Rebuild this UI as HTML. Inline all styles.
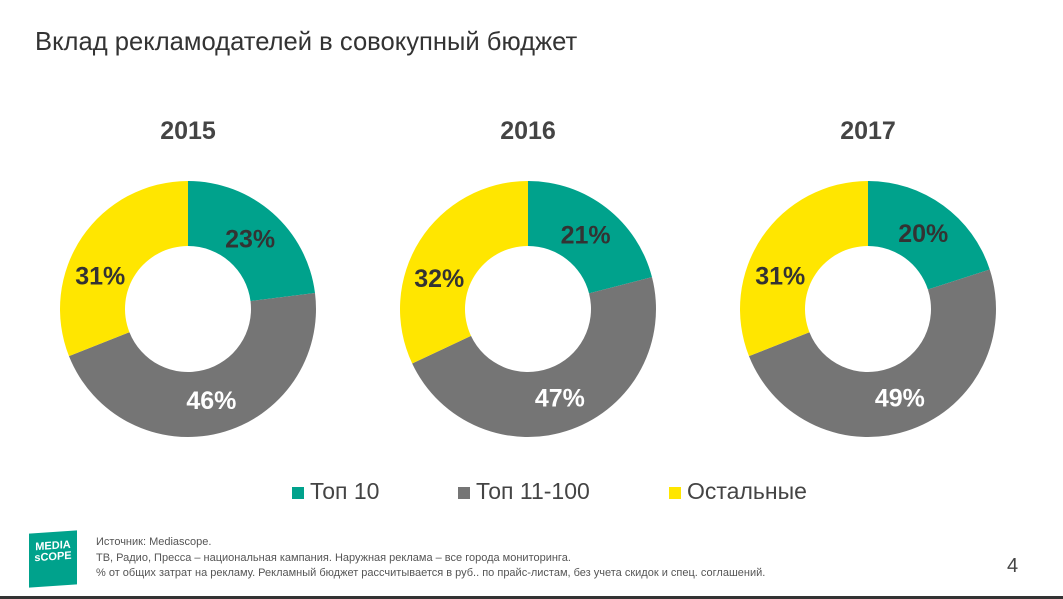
<!DOCTYPE html>
<html><head><meta charset="utf-8"><style>
body{margin:0;width:1063px;height:599px;background:#fff;font-family:"Liberation Sans",sans-serif;overflow:hidden;position:relative}
.t{position:absolute}
</style></head><body>
<div class="t" style="left:35px;top:28px;font-size:25.6px;color:#333">Вклад рекламодателей в совокупный бюджет</div>
<svg id="c" width="1063" height="599" style="position:absolute;left:0;top:0"></svg>
<div class="t" style="left:0;top:478px;width:1063px;font-size:23px;color:#444">
<div class="t" style="left:292px;top:0;white-space:nowrap"><span style="display:inline-block;width:12px;height:12px;background:#00A28C;margin-right:6px"></span>Топ 10</div>
<div class="t" style="left:458px;top:0;white-space:nowrap"><span style="display:inline-block;width:12px;height:12px;background:#757575;margin-right:6px"></span>Топ 11-100</div>
<div class="t" style="left:669px;top:0;white-space:nowrap"><span style="display:inline-block;width:12px;height:12px;background:#FFE600;margin-right:6px"></span>Остальные</div>
</div>
<div class="t" style="left:29px;top:532px;width:48px;height:54px;background:#00A28C;transform:skewY(-4deg);color:#fff;font-size:11px;line-height:11px;text-align:center;padding-top:9px;box-sizing:border-box;font-weight:bold">MEDIA<br>sCOPE</div>
<div class="t" style="left:96px;top:535px;font-size:11px;line-height:15.5px;color:#555">Источник: Mediascope.<br>ТВ, Радио, Пресса – национальная кампания. Наружная реклама – все города мониторинга.<br>% от общих затрат на рекламу. Рекламный бюджет рассчитывается в руб.. по прайс-листам, без учета скидок и спец. соглашений.</div>
<div class="t" style="left:1007px;top:555px;font-size:20px;color:#444">4</div>
<div class="t" style="left:0;top:596px;width:1063px;height:3px;background:#333"></div>
<script>
const years=["2015","2016","2017"];
const top10=[23,21,20];
const top11_100=[46,47,49];
const others=[31,32,31];
const colors=["#00A28C","#757575","#FFE600"];
const names=["top10","top11-100","others"];
const svg=document.getElementById('c');const NS="http://www.w3.org/2000/svg";
const cx0=188,dx=340,cy=309,R=128,r=63;
const labelShift=[0,0,-0.23];
function pt(cx,a,rad){return [cx+rad*Math.sin(a),cy-rad*Math.cos(a)];}
years.forEach((y,i)=>{
 const cx=cx0+i*dx;const vals=[top10[i],top11_100[i],others[i]];const tot=vals.reduce((a,b)=>a+b,0);
 const t=document.createElementNS(NS,'text');
 
 
 t.setAttribute('x',cx);t.setAttribute('y',139);t.setAttribute('text-anchor','middle');t.setAttribute('font-size','25');t.setAttribute('font-weight','bold');t.setAttribute('fill','#444');t.textContent=y;svg.appendChild(t);
 let a0=0;
 vals.forEach((v,k)=>{
  const a1=a0+v/tot*2*Math.PI;const lg=(a1-a0)>Math.PI?1:0;
  const [x1,y1]=pt(cx,a0,R),[x2,y2]=pt(cx,a1,R),[x3,y3]=pt(cx,a1,r),[x4,y4]=pt(cx,a0,r);
  const p=document.createElementNS(NS,'path');
  
  
  p.setAttribute('d',`M${x1},${y1}A${R},${R} 0 ${lg} 1 ${x2},${y2}L${x3},${y3}A${r},${r} 0 ${lg} 0 ${x4},${y4}Z`);
  p.setAttribute('fill',colors[k]);svg.appendChild(p);
  const [lx,ly]=pt(cx,(a0+a1)/2+labelShift[k],94);
  const l=document.createElementNS(NS,'text');
  
  
  l.setAttribute('x',lx);l.setAttribute('y',ly+9);l.setAttribute('text-anchor','middle');l.setAttribute('font-size','25');l.setAttribute('font-weight','bold');l.setAttribute('fill',k==1?'#fff':'#333');l.textContent=v+'%';svg.appendChild(l);
  a0=a1;
 });
});
</script>
</body></html>
